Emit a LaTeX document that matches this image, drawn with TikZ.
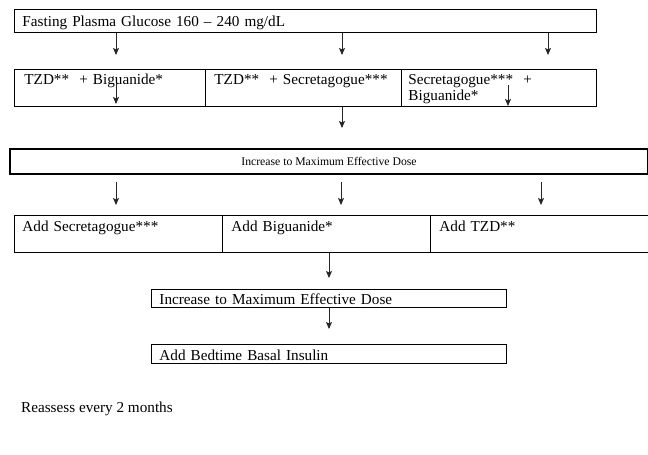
\documentclass[tikz,border=0pt]{standalone}
\usepackage{fontspec}
\setmainfont{Liberation Serif}
\usetikzlibrary{arrows.meta}

\tikzset{
  box/.style={draw, line width=0.9pt, inner xsep=8pt, inner ysep=3pt, anchor=north west,
    align=left, font=\fontsize{15.2}{16}\selectfont},
  cell/.style={box, text height=12pt, text depth=19pt},
  addcell/.style={box, text height=13pt, text depth=18pt},
  slim/.style={box, inner ysep=1pt, text height=14pt, text depth=2pt},
  bar/.style={draw, line width=2pt, anchor=north west, minimum width=638pt, minimum height=25pt,
    inner sep=0pt, font=\fontsize{11.7}{13}\selectfont},
  arr/.style={->, >={Stealth[length=7pt,width=6pt,inset=1.5pt]}, line width=0.9pt, draw=black!85},
}

\begin{document}
\begin{tikzpicture}[x=1pt,y=-1pt]
  \useasboundingbox (0,0) rectangle (648,455);
  \clip (0,0) rectangle (648,455);

  % first choice
  \node[box, text width=566pt, text height=14pt, text depth=3pt] (fpg) at (14,9)
    {Fasting Plasma Glucose 160 -- 240 mg/dL};
  \node[cell, text width=171pt, inner xsep=10pt] (combo1) at (14,69) {TZD**~ + Biguanide*};
  \node[cell, text width=178pt, inner xsep=9pt] (combo2) at (205,69) {TZD**~ + Secretagogue***};
  \node[cell, text width=181pt, inner xsep=7pt] (combo3) at (401,69) {Secretagogue***~ +\\Biguanide*};

  \coordinate (t1) at (116,55);
  \coordinate (t2) at (342,55);
  \coordinate (t3) at (548,55);
  \draw[arr] (fpg.south -| t1) -- (t1);
  \draw[arr] (fpg.south -| t2) -- (t2);
  \draw[arr] (fpg.south -| t3) -- (t3);

  % arrows inside the combination row
  \coordinate (i1s) at (116,83);
  \coordinate (i1e) at (116,104);
  \coordinate (i3s) at (508,85);
  \coordinate (i3e) at (508,106);
  \draw[arr] (i1s) -- (i1e);
  \draw[arr] (i3s) -- (i3e);
  \coordinate (m2) at (342,128);
  \draw[arr] (combo2.south -| m2) -- (m2);

  % dose bar
  \node[bar] (dose1) at (9,148) {Increase to Maximum Effective Dose};
  \foreach \x [count=\k] in {116,341,541} {
    \coordinate (d\k s) at (\x,182);
    \coordinate (d\k e) at (\x,205);
    \draw[arr] (d\k s) -- (d\k e);
  }

  % add a third drug
  \node[addcell, text width=192pt] (add1) at (14,215) {Add Secretagogue***};
  \node[addcell, text width=190pt, inner xsep=9pt] (add2) at (222,215) {Add Biguanide*};
  \node[addcell, text width=204pt, inner xsep=9pt] (add3) at (430,215) {Add TZD**};

  \coordinate (a2) at (329,278);
  \draw[arr] (add2.south -| a2) -- (a2);
  \node[slim, text width=339pt] (dose2) at (151,289) {Increase to Maximum Effective Dose};
  \coordinate (a3) at (329,329);
  \draw[arr] (dose2.south -| a3) -- (a3);
  \node[slim, text height=15pt, text width=339pt] (insulin) at (151,344) {Add Bedtime Basal Insulin};

  \node[anchor=west, inner sep=0pt, font=\fontsize{15.2}{16}\selectfont] (reassess) at (21,409)
    {Reassess every 2 months};
\end{tikzpicture}
\end{document}
